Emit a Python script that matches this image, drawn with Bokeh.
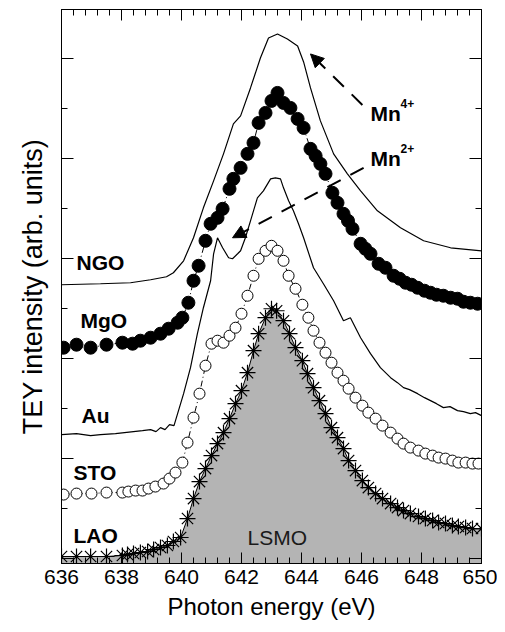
from bokeh.plotting import figure
from bokeh.models import Range1d, LinearAxis, SingleIntervalTicker, Label, Arrow, NormalHead
from bokeh.embed import file_html
from bokeh.resources import INLINE

# ---------------- data (photon energy eV, TEY intensity arb. units, offset) ----------------
ngo_e = [636.0, 637.3, 638.3, 638.97, 639.5, 639.73, 640.07, 640.4, 640.73, 641.07, 641.4, 641.73,
         641.97, 642.3, 642.63, 642.9, 643.2, 643.53, 643.87, 644.07, 644.3, 644.63, 645.07, 645.53,
         645.97, 646.53, 647.3, 648.07, 648.97, 650.0]
ngo_y = [2.74, 2.75, 2.76, 2.79, 2.82, 2.86, 2.98, 3.21, 3.51, 3.78, 4.05, 4.35,
         4.43, 4.71, 5.01, 5.21, 5.25, 5.20, 5.13, 4.97, 4.71, 4.38, 4.05, 3.85,
         3.68, 3.48, 3.31, 3.18, 3.11, 3.08]

mgo_e = [636.07, 636.5, 636.97, 637.5, 638.03, 638.37, 638.63, 638.97, 639.3, 639.57, 639.87, 640.03,
         640.23, 640.4, 640.57, 640.8, 640.97, 641.2, 641.37, 641.6, 641.73, 641.97, 642.2, 642.4,
         642.57, 642.8, 643.0, 643.2, 643.4, 643.63, 643.87, 644.07, 644.3, 644.47, 644.63, 644.8,
         645.03, 645.2, 645.4, 645.55, 645.7, 645.97, 646.13, 646.3, 646.57, 646.8, 647.07, 647.27,
         647.47, 647.67, 647.87, 648.1, 648.3, 648.5, 648.73, 648.97, 649.2, 649.4, 649.63, 649.87]
mgo_y = [2.11, 2.14, 2.11, 2.14, 2.16, 2.15, 2.18, 2.21, 2.25, 2.30, 2.36, 2.41,
         2.56, 2.78, 2.93, 3.18, 3.35, 3.41, 3.50, 3.70, 3.80, 3.91, 4.05, 4.16,
         4.36, 4.46, 4.58, 4.66, 4.56, 4.51, 4.40, 4.31, 4.10, 4.03, 3.95, 3.85,
         3.66, 3.56, 3.45, 3.38, 3.30, 3.15, 3.10, 3.05, 2.95, 2.91, 2.83, 2.80,
         2.76, 2.74, 2.71, 2.68, 2.66, 2.64, 2.63, 2.61, 2.60, 2.57, 2.56, 2.55]

au_e = [636.0, 636.5, 636.97, 637.3, 637.8, 638.4, 638.7, 638.97, 639.15, 639.3, 639.45, 639.6,
        639.75, 639.87, 640.07, 640.3, 640.53, 640.73, 640.97, 641.07, 641.2, 641.37, 641.57, 641.7,
        641.87, 641.97, 642.13, 642.3, 642.53, 642.73, 642.97, 643.13, 643.3, 643.4, 643.57, 643.73,
        643.9, 644.07, 644.4, 644.73, 645.07, 645.4, 645.63, 645.97, 646.3, 646.63, 646.97, 647.2,
        647.4, 647.6, 647.87, 648.1, 648.3, 648.5, 648.73, 648.95, 649.2, 649.4, 649.63, 649.8, 650.0]
au_y = [1.24, 1.25, 1.23, 1.24, 1.25, 1.27, 1.28, 1.29, 1.27, 1.31, 1.29, 1.34,
        1.33, 1.45, 1.65, 1.91, 2.25, 2.51, 2.78, 3.05, 3.21, 3.11, 3.01, 3.00,
        3.05, 3.08, 3.21, 3.38, 3.61, 3.68, 3.80, 3.81, 3.80, 3.71, 3.58, 3.48,
        3.35, 3.21, 2.91, 2.75, 2.58, 2.38, 2.41, 2.21, 2.05, 1.91, 1.81, 1.76,
        1.71, 1.69, 1.65, 1.61, 1.58, 1.55, 1.51, 1.52, 1.48, 1.47, 1.45, 1.46, 1.43]

sto_e = [636.07, 636.5, 637.0, 637.5, 638.03, 638.23, 638.47, 638.7, 638.9, 639.13, 639.4, 639.6,
         639.8, 640.03, 640.2, 640.4, 640.6, 640.8, 641.0, 641.2, 641.4, 641.6, 641.8, 642.0,
         642.2, 642.4, 642.57, 642.8, 643.0, 643.2, 643.4, 643.57, 643.8, 644.03, 644.23, 644.4,
         644.6, 644.8, 645.0, 645.2, 645.4, 645.57, 645.8, 646.03, 646.23, 646.47, 646.7, 646.97,
         647.2, 647.4, 647.63, 647.9, 648.13, 648.37, 648.57, 648.8, 649.03, 649.23, 649.47, 649.7, 649.9]
sto_y = [0.64, 0.65, 0.65, 0.66, 0.66, 0.67, 0.68, 0.68, 0.70, 0.72, 0.75, 0.80,
         0.86, 0.96, 1.16, 1.41, 1.65, 1.93, 2.15, 2.18, 2.16, 2.23, 2.31, 2.45,
         2.63, 2.83, 3.00, 3.08, 3.13, 3.08, 2.98, 2.83, 2.70, 2.54, 2.41, 2.28,
         2.16, 2.06, 1.96, 1.86, 1.78, 1.70, 1.61, 1.53, 1.46, 1.40, 1.33, 1.26,
         1.20, 1.15, 1.11, 1.08, 1.05, 1.03, 1.01, 1.00, 0.98, 0.96, 0.96, 0.95, 0.95]

lao_e = [636.0, 636.5, 636.97, 637.5, 638.03, 638.2, 638.4, 638.63, 638.87, 639.07, 639.3, 639.53,
         639.73, 639.97, 640.2, 640.4, 640.6, 640.8, 641.0, 641.2, 641.4, 641.6, 641.8, 642.0,
         642.2, 642.4, 642.57, 642.8, 643.0, 643.17, 643.4, 643.6, 643.8, 644.03, 644.2, 644.4,
         644.6, 644.8, 645.0, 645.2, 645.4, 645.57, 645.8, 646.03, 646.23, 646.47, 646.7, 646.97,
         647.2, 647.4, 647.63, 647.9, 648.13, 648.37, 648.57, 648.8, 649.03, 649.23, 649.47, 649.7, 650.0]
lao_y = [0.02, 0.02, 0.02, 0.02, 0.03, 0.04, 0.05, 0.06, 0.07, 0.09, 0.11, 0.13,
         0.17, 0.21, 0.40, 0.60, 0.77, 0.90, 1.03, 1.15, 1.26, 1.40, 1.55, 1.68,
         1.86, 2.08, 2.25, 2.41, 2.50, 2.48, 2.38, 2.25, 2.11, 1.98, 1.85, 1.71,
         1.58, 1.45, 1.31, 1.21, 1.10, 0.98, 0.88, 0.78, 0.71, 0.65, 0.60, 0.55,
         0.51, 0.48, 0.45, 0.42, 0.40, 0.38, 0.36, 0.35, 0.33, 0.32, 0.31, 0.30, 0.30]

x_tick_values = [636, 638, 640, 642, 644, 646, 648, 650]
y_tick_values = [0, 1, 2, 3, 4, 5]
FONT = "Liberation Sans"

p = figure(width=497, height=624, x_range=Range1d(636, 650), y_range=Range1d(-0.05, 5.495),
           output_backend="svg", toolbar_location=None,
           min_border_left=61, min_border_right=16, min_border_top=9, min_border_bottom=61)
p.xgrid.visible = False
p.ygrid.visible = False
p.outline_line_color = "black"
p.outline_line_width = 1

# gray LSMO area under LAO
p.varea(x=lao_e, y1=-0.05, y2=lao_y, color="#b4b4b4")

# curves
p.line(ngo_e, ngo_y, line_color="black", line_width=1.2)
p.line(au_e, au_y, line_color="black", line_width=1.2)
p.line(mgo_e, mgo_y, line_color="black", line_width=1, line_dash="6 3 1 3")
p.scatter(mgo_e, mgo_y, marker="circle", size=13, fill_color="black", line_color="black")
p.line(sto_e, sto_y, line_color="black", line_width=1, line_dash="6 3 1 3")
p.scatter(sto_e, sto_y, marker="circle", size=11, fill_color="white", line_color="black", line_width=1)
p.line(lao_e, lao_y, line_color="black", line_width=1)
p.scatter(lao_e, lao_y, marker="asterisk", size=16, line_color="black", line_width=1.2)

# axes styling
def style_axis(ax, ticker, major_in, minor_in, ticks, labels=True):
    ax.ticker = ticker
    ax.major_tick_in = major_in
    ax.major_tick_out = 0
    ax.minor_tick_in = minor_in
    ax.minor_tick_out = 0
    ax.axis_line_color = "black"
    ax.major_tick_line_color = "black"
    ax.minor_tick_line_color = "black"
    if not labels:
        ax.major_label_overrides = {v: "" for v in ticks}
        ax.major_label_standoff = 0
        ax.major_label_text_font_size = "1px"

xt = SingleIntervalTicker(interval=2, num_minor_ticks=5)
yt = SingleIntervalTicker(interval=1, num_minor_ticks=2)

style_axis(p.xaxis[0], xt, 11, 6, x_tick_values)
p.xaxis.major_label_text_font = FONT
p.xaxis.major_label_text_font_size = "21px"
p.xaxis.major_label_text_color = "black"
p.xaxis.major_label_standoff = 6
p.xaxis.axis_label = "Photon energy (eV)"
p.xaxis.axis_label_text_font = FONT
p.xaxis.axis_label_text_font_size = "24px"
p.xaxis.axis_label_text_font_style = "normal"
p.xaxis.axis_label_text_color = "black"
p.xaxis.axis_label_standoff = 6

style_axis(p.yaxis[0], yt, 12, 6, y_tick_values, labels=False)
p.yaxis.axis_label = "TEY intensity (arb. units)"
p.yaxis.axis_label_text_font = FONT
p.yaxis.axis_label_text_font_size = "27px"
p.yaxis.axis_label_text_font_style = "normal"
p.yaxis.axis_label_text_color = "black"
p.yaxis.axis_label_standoff = 14

top = LinearAxis()
style_axis(top, SingleIntervalTicker(interval=2, num_minor_ticks=5), 11, 6, x_tick_values, labels=False)
p.add_layout(top, "above")
right = LinearAxis()
style_axis(right, SingleIntervalTicker(interval=1, num_minor_ticks=2), 12, 6, y_tick_values, labels=False)
p.add_layout(right, "right")

# curve labels
for txt, x, y in [("NGO", 636.5, 2.96), ("MgO", 636.63, 2.38), ("Au", 636.67, 1.43),
                  ("STO", 636.4, 0.86), ("LAO", 636.4, 0.23)]:
    p.add_layout(Label(x=x, y=y, text=txt, text_font=FONT, text_font_size="21px",
                       text_font_style="bold", text_baseline="middle", text_color="black"))
p.add_layout(Label(x=642.2, y=0.21, text="LSMO", text_font=FONT, text_font_size="21px",
                   text_baseline="middle", text_color="#1a1a1a"))

# Mn labels
for txt, x, y, fs in [("Mn", 646.3, 4.45, "21px"), ("4+", 647.3, 4.55, "12px"),
                      ("Mn", 646.3, 4.0, "21px"), ("2+", 647.3, 4.1, "12px")]:
    p.add_layout(Label(x=x, y=y, text=txt, text_font=FONT, text_font_size=fs,
                       text_font_style="bold", text_baseline="alphabetic", text_color="black"))

# arrows
p.add_layout(Arrow(end=NormalHead(size=13, fill_color="black", line_color="black"),
                   x_start=646.03, y_start=4.54, x_end=644.3, y_end=5.05,
                   line_dash="15 11", line_width=2, line_color="black"))
p.add_layout(Arrow(end=NormalHead(size=13, fill_color="black", line_color="black"),
                   x_start=646.07, y_start=3.91, x_end=641.7, y_end=3.21,
                   line_dash="15 11", line_width=2, line_color="black"))

open("out.html", "w").write(file_html(p, INLINE))
